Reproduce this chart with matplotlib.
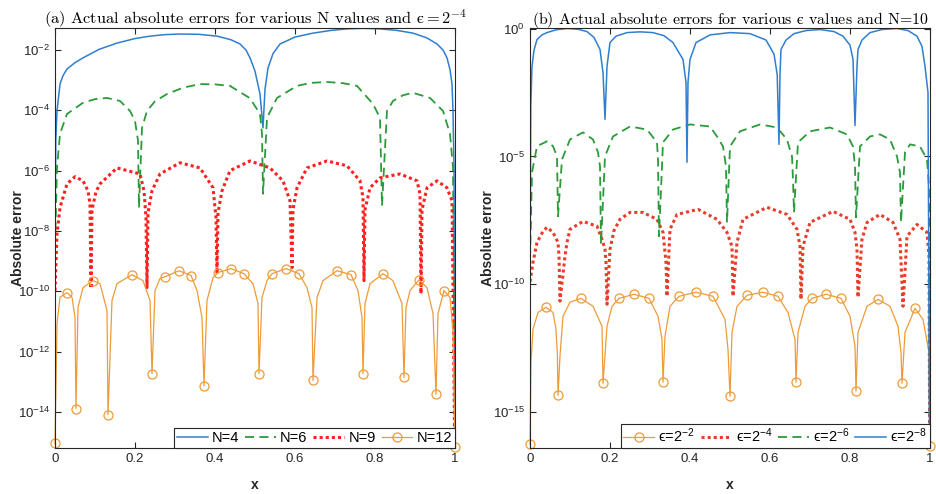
import numpy as np
import matplotlib
matplotlib.use("Agg")
import matplotlib.pyplot as plt
from matplotlib.ticker import LogFormatterSciNotation, NullLocator

plt.rcParams['font.family'] = ['Liberation Sans', 'DejaVu Sans']
plt.rcParams['mathtext.fontset'] = 'custom'
plt.rcParams['mathtext.rm'] = 'Liberation Sans'
plt.rcParams['mathtext.it'] = 'Liberation Sans:italic'
plt.rcParams['mathtext.bf'] = 'Liberation Sans:bold'
plt.rcParams['mathtext.default'] = 'regular'
plt.rcParams['mathtext.fallback'] = 'stix'

EPS = '\u03f5'  # lunate epsilon as in the source figure

# ---- panel (a): eps = 2^-4, errors as log10 values ----
n4_x = [0, 0.002, 0.005, 0.0125, 0.02, 0.03, 0.05, 0.07, 0.11, 0.155, 0.2, 0.2375, 0.275,
        0.3125, 0.36, 0.405, 0.44, 0.4625, 0.4775, 0.4875, 0.5, 0.5125, 0.52,
        0.525, 0.5325, 0.545, 0.5625, 0.6, 0.645, 0.69, 0.73, 0.77, 0.8125, 0.855, 0.895,
        0.93, 0.955, 0.97, 0.98, 0.9875, 0.9925, 0.995, 0.9975, 1.0]
n4_ly = [-8, -5.0, -4.02, -3.13, -2.85, -2.63, -2.42, -2.26, -1.98, -1.77, -1.62, -1.54, -1.49,
         -1.47, -1.48, -1.54, -1.66, -1.80, -2.0, -2.26, -2.7, -3.46, -4.58,
         -3.3, -2.60, -2.12, -1.80, -1.57, -1.44, -1.35, -1.30, -1.28, -1.30, -1.35, -1.44,
         -1.6, -1.80, -2.0, -2.26, -2.65, -3.13, -4.02, -5.9, -16]

n6_x = [0, 0.005, 0.0125, 0.03, 0.07, 0.1, 0.13, 0.1625, 0.1875, 0.2, 0.2075, 0.21,
        0.2175, 0.23, 0.25, 0.28, 0.32, 0.3625, 0.4, 0.4375, 0.4875, 0.5125, 0.5175, 0.52,
        0.53, 0.555, 0.605, 0.64, 0.68, 0.72, 0.755, 0.795, 0.8125, 0.8175,
        0.83, 0.845, 0.87, 0.895, 0.9375, 0.97, 0.9875, 0.995, 1.0]
n6_ly = [-8.5, -5.9, -4.78, -4.12, -3.75, -3.63, -3.59, -3.69, -4.02, -4.35, -5.0, -7.23,
         -4.58, -4.02, -3.7, -3.46, -3.25, -3.13, -3.14, -3.19, -3.6, -4.12, -4.78, -6.77,
         -4.25, -3.59, -3.19, -3.09, -3.06, -3.1, -3.19, -3.79, -4.25, -7.17,
         -4.02, -3.69, -3.5, -3.42, -3.59, -4.02, -4.78, -5.9, -16]

n9_x = [0, 0.005, 0.0125, 0.03, 0.05, 0.07, 0.0825, 0.0875, 0.09,
        0.0925, 0.1025, 0.1125, 0.155, 0.2125, 0.2225, 0.2275, 0.23,
        0.2325, 0.2425, 0.2625, 0.3125, 0.3625, 0.395, 0.4025, 0.405,
        0.4075, 0.4175, 0.4375, 0.4875, 0.5375, 0.57, 0.5875, 0.5925,
        0.595, 0.605, 0.63, 0.68, 0.73, 0.7625, 0.77, 0.7725,
        0.775, 0.7875, 0.8125, 0.8625, 0.905, 0.9125, 0.915,
        0.9175, 0.93, 0.955, 0.98, 0.9925, 1.0]
n9_ly = [-9.98, -8.09, -7.23, -6.44, -6.2, -6.34, -6.67, -7.1, -9.91,
         -7.3, -6.7, -6.44, -5.91, -6.11, -6.67, -7.56, -9.88,
         -7.4, -6.67, -6.11, -5.74, -5.91, -6.57, -7.56, -9.42,
         -7.4, -6.67, -6.0, -5.68, -5.91, -6.34, -7.0, -9.22,
         -7.3, -6.57, -5.91, -5.68, -5.84, -6.34, -6.9, -9.65,
         -7.3, -6.57, -6.24, -6.11, -6.34, -6.77, -10.08,
         -7.3, -6.57, -6.34, -6.57, -7.0, -16]

n12_x = [0, 0.005, 0.0125, 0.03, 0.0425, 0.05, 0.0525,
         0.0575, 0.07, 0.095, 0.1125, 0.13, 0.1325,
         0.1425, 0.155, 0.1925, 0.22, 0.2375, 0.2425,
         0.25, 0.2625, 0.275, 0.31, 0.34, 0.355, 0.3675, 0.3725,
         0.38, 0.395, 0.4075, 0.44, 0.4725, 0.495, 0.5075, 0.51,
         0.5175, 0.53, 0.5425, 0.5775, 0.61, 0.63, 0.6425, 0.645,
         0.655, 0.67, 0.705, 0.74, 0.7575, 0.7675, 0.77,
         0.775, 0.7875, 0.82, 0.845, 0.8675, 0.8725,
         0.8775, 0.8875, 0.91, 0.93, 0.945, 0.9525,
         0.9575, 0.9725, 0.9875, 0.995, 1.0]
n12_ly = [-15.05, -11.07, -10.2, -10.05, -10.2, -10.87, -13.89,
          -10.54, -9.88, -9.65, -9.75, -10.64, -14.09,
          -10.31, -9.75, -9.45, -9.65, -10.31, -12.73,
          -9.98, -9.58, -9.52, -9.32, -9.48, -9.98, -10.87, -13.13,
          -10.31, -9.55, -9.38, -9.25, -9.42, -9.75, -10.41, -12.73,
          -10.21, -9.65, -9.42, -9.25, -9.42, -9.88, -10.54, -12.96,
          -10.21, -9.65, -9.32, -9.45, -9.98, -10.87, -12.73,
          -10.41, -9.75, -9.42, -9.65, -10.41, -12.86,
          -10.54, -9.98, -9.62, -9.88, -10.74, -13.42,
          -10.74, -9.98, -10.21, -11.3, -15.17]
n12_marks = [0, 0.03, 0.0525, 0.095, 0.1325, 0.1925, 0.2425, 0.275, 0.31, 0.34, 0.3725,
             0.4075, 0.44, 0.4725, 0.51, 0.5425, 0.5775, 0.61, 0.645, 0.705, 0.74, 0.77,
             0.82, 0.8725, 0.91, 0.9525, 0.9725, 1.0]

# ---- panel (b): N = 10 ----
e8_x = [0, 0.002, 0.005, 0.01, 0.0175, 0.03, 0.0425, 0.065, 0.0925, 0.12, 0.1425, 0.16,
        0.175, 0.1825, 0.1875,
        0.1925, 0.2, 0.215, 0.2425, 0.275, 0.3075, 0.335, 0.3575, 0.3825, 0.39, 0.3925,
        0.395, 0.4, 0.415, 0.45, 0.5, 0.55, 0.59, 0.61, 0.618, 0.6225,
        0.625, 0.6275, 0.64, 0.66, 0.69, 0.725, 0.76, 0.7825, 0.8, 0.8075, 0.8125,
        0.8175, 0.82, 0.83, 0.85, 0.88, 0.9175, 0.945, 0.9675, 0.98, 0.9875, 0.995, 1.0]
e8_ly = [-9.9, -3.0, -1.48, -0.85, -0.43, -0.25, -0.16, -0.05, 0.0, -0.03, -0.12, -0.35,
         -0.82, -1.72, -3.55,
         -1.48, -0.55, -0.3, -0.16, -0.13, -0.16, -0.28, -0.55, -1.21, -2.11, -5.23,
         -2.11, -1.21, -0.55, -0.25, -0.16, -0.2, -0.45, -1.0, -1.8, -4.53,
         -1.8, -0.82, -0.45, -0.2, -0.08, -0.04, -0.12, -0.3, -0.65, -1.2, -3.79,
         -1.48, -0.82, -0.45, -0.16, -0.04, 0.0, -0.08, -0.3, -0.7, -1.48, -2.5, -20]

e6_x = [0, 0.005, 0.0175, 0.0425, 0.0575, 0.0675, 0.07,
        0.08, 0.1, 0.1325, 0.1575, 0.17, 0.175, 0.1775,
        0.1875, 0.2075, 0.25, 0.2925, 0.3175, 0.32, 0.3225,
        0.3325, 0.3575, 0.4, 0.45, 0.4675, 0.4825, 0.49, 0.4925,
        0.5, 0.525, 0.575, 0.6175, 0.6425, 0.655, 0.6575, 0.66,
        0.67, 0.7, 0.75, 0.7925, 0.8075, 0.8125, 0.815,
        0.825, 0.85, 0.875, 0.9, 0.9175, 0.925, 0.9275,
        0.9375, 0.95, 0.975, 0.9925, 0.9975, 1.0]
e6_ly = [-9.0, -5.63, -4.6, -4.41, -4.6, -5.0, -7.34,
         -5.12, -4.34, -4.06, -4.34, -4.84, -5.39, -8.44,
         -5.0, -4.22, -3.83, -3.95, -4.45, -5.12, -8.12,
         -4.45, -3.95, -3.75, -3.83, -4.22, -4.61, -5.39, -7.58,
         -4.61, -4.02, -3.75, -3.87, -4.34, -5.0, -5.9, -7.19,
         -4.45, -4.02, -3.87, -4.14, -4.61, -5.39, -7.38,
         -4.61, -4.22, -4.14, -4.34, -5.0, -5.63, -7.58,
         -4.84, -4.53, -4.61, -5.12, -6.17, -20]

e4_x = [0, 0.0075, 0.0175, 0.0325, 0.0425, 0.0575, 0.07, 0.0725, 0.075,
        0.0875, 0.0925, 0.1, 0.1325, 0.1675, 0.18, 0.1875, 0.19, 0.1925,
        0.2, 0.21, 0.225, 0.25, 0.2825, 0.3175, 0.3325, 0.34, 0.3425,
        0.35, 0.3675, 0.42, 0.4675, 0.4925, 0.505, 0.5075,
        0.5175, 0.5325, 0.5925, 0.6425, 0.6675, 0.675, 0.6775,
        0.6825, 0.7, 0.7575, 0.8, 0.8125, 0.8175, 0.82,
        0.83, 0.8425, 0.875, 0.9075, 0.925, 0.9325,
        0.9425, 0.9675, 0.9925, 0.9975, 1.0]
e4_ly = [-9.9, -9.14, -8.36, -7.93, -7.77, -7.97, -8.36, -8.9, -10.66,
         -8.9, -8.36, -7.85, -7.54, -7.73, -8.24, -8.63, -9.14, -10.78,
         -8.63, -7.9, -7.46, -7.19, -7.19, -7.46, -7.97, -9.14, -10.47,
         -7.85, -7.27, -7.07, -7.46, -7.97, -8.52, -10.47,
         -8.36, -7.46, -6.99, -7.27, -7.85, -8.52, -10.59,
         -8.52, -7.58, -7.15, -7.46, -7.97, -8.63, -10.51,
         -8.24, -7.58, -7.27, -7.58, -8.24, -10.86,
         -8.12, -7.66, -7.97, -8.9, -20]

e2_x = [0, 0.0025, 0.0075, 0.02, 0.04, 0.0575, 0.065, 0.0685, 0.07,
        0.075, 0.0825, 0.1, 0.1275, 0.1575, 0.18, 0.1825,
        0.1925, 0.205, 0.2225, 0.26, 0.2975, 0.32, 0.33, 0.3325,
        0.3375, 0.35, 0.3725, 0.415, 0.4575, 0.4875, 0.495, 0.5,
        0.505, 0.5175, 0.5425, 0.5825, 0.62, 0.645, 0.6625, 0.665,
        0.67, 0.6875, 0.705, 0.74, 0.7775, 0.8, 0.8125, 0.815,
        0.82, 0.8425, 0.87, 0.9, 0.92, 0.9275, 0.93,
        0.9375, 0.9625, 0.9825, 0.9975, 1.0]
e2_ly = [-16.25, -13.05, -11.76, -11.1, -10.9, -11.1, -11.76, -12.8, -14.34,
         -12.8, -11.25, -10.7, -10.55, -10.86, -11.64, -13.87,
         -11.64, -10.86, -10.55, -10.39, -10.55, -11.25, -12.15, -13.83,
         -12.03, -10.86, -10.47, -10.31, -10.47, -11.37, -12.54, -14.38,
         -11.88, -10.86, -10.43, -10.31, -10.47, -11.1, -12.15, -13.83,
         -11.88, -10.86, -10.55, -10.39, -10.55, -11.25, -12.42, -14.18,
         -11.88, -10.86, -10.59, -10.86, -11.64, -12.66, -13.87,
         -11.88, -10.94, -11.37, -12.66, -16.33]
e2_marks = [0, 0.04, 0.07, 0.1275, 0.1825, 0.2225, 0.26, 0.2975, 0.3325, 0.3725, 0.415,
            0.4575, 0.5, 0.5425, 0.5825, 0.62, 0.665, 0.705, 0.74, 0.7775, 0.815, 0.87,
            0.93, 0.9625, 1.0]

BLUE = '#2f7ed0'
GREEN = '#2b9a3a'
RED_A = '#ff1f1f'
RED_B = '#e83d2a'
ORANGE = '#ee9b38'
EDGE = '#262626'


def style_axes(ax, yticks, ylim, title, title_size):
    ax.set_yscale('log')
    ax.set_xlim(0, 1)
    ax.set_ylim(10.0 ** ylim[0], 10.0 ** ylim[1])
    ax.set_xticks([0, 0.2, 0.4, 0.6, 0.8, 1])
    ax.set_xticklabels(['0', '0.2', '0.4', '0.6', '0.8', '1'])
    ax.set_yticks(yticks)
    ax.yaxis.set_major_formatter(LogFormatterSciNotation())
    ax.yaxis.set_minor_locator(NullLocator())
    ax.tick_params(direction='in', top=True, right=True, length=4, width=0.8,
                   labelsize=9.5, colors=EDGE)
    for sp in ax.spines.values():
        sp.set_color(EDGE)
        sp.set_linewidth(0.8)
    ax.set_xlabel('x', fontsize=10, fontweight='bold', color=EDGE)
    ax.set_ylabel('Absolute error', fontsize=10, fontweight='bold', color=EDGE)
    ax.xaxis.set_label_coords(0.5, -0.072)
    ax.set_title(title, fontsize=title_size, family='cmr10', math_fontfamily='cm', pad=3)


def add_legend(ax):
    leg = ax.legend(loc='lower right', ncol=4, fontsize=10.5, borderaxespad=0, fancybox=False,
                    framealpha=1, edgecolor=EDGE, handlelength=2.1, handletextpad=0.3,
                    columnspacing=0.4, borderpad=0.2)
    leg.get_frame().set_linewidth(0.8)


def main():
    fig = plt.figure(figsize=(9.36, 4.94), dpi=100)
    ax1 = fig.add_axes([55 / 936, 46 / 494, 400 / 936, 420 / 494])
    ax2 = fig.add_axes([530 / 936, 46 / 494, 400 / 936, 420 / 494])

    # (a)
    ax1.plot(n4_x, 10.0 ** np.array(n4_ly), '-', color=BLUE, lw=1.1, label='N=4')
    ax1.plot(n6_x, 10.0 ** np.array(n6_ly), color=GREEN, lw=1.3, dashes=(5, 3), label='N=6')
    ax1.plot(n9_x, 10.0 ** np.array(n9_ly), color=RED_A, lw=2.2, dashes=(1, 1),
             dash_capstyle='butt', label='N=9')
    m12 = np.flatnonzero(np.isin(n12_x, n12_marks))
    ax1.plot(n12_x, 10.0 ** np.array(n12_ly), '-o', color=ORANGE, lw=0.9, ms=6.5, mfc='none',
             mew=0.9, markevery=list(m12), clip_on=False, label='N=12')
    style_axes(ax1, [1e-14, 1e-12, 1e-10, 1e-8, 1e-6, 1e-4, 1e-2], (-15.2, -1.27),
               '(a) Actual absolute errors for various N values and $' + EPS + ' = 2^{-4}$', 11.8)
    ax1.yaxis.set_label_coords(-0.075, 0.5)
    add_legend(ax1)

    # (b)
    m2 = np.flatnonzero(np.isin(e2_x, e2_marks))
    ax2.plot(e2_x, 10.0 ** np.array(e2_ly), '-o', color=ORANGE, lw=0.9, ms=6.5, mfc='none',
             mew=0.9, markevery=list(m2), clip_on=False, label='$' + EPS + '$=2$^{-2}$')
    ax2.plot(e4_x, 10.0 ** np.array(e4_ly), color=RED_B, lw=2.2, dashes=(1, 1),
             dash_capstyle='butt', label='$' + EPS + '$=2$^{-4}$')
    ax2.plot(e6_x, 10.0 ** np.array(e6_ly), color=GREEN, lw=1.3, dashes=(5, 3),
             label='$' + EPS + '$=2$^{-6}$')
    ax2.plot(e8_x, 10.0 ** np.array(e8_ly), '-', color=BLUE, lw=1.1,
             label='$' + EPS + '$=2$^{-8}$')
    style_axes(ax2, [1e-15, 1e-10, 1e-5, 1], (-16.4, 0.02),
               '(b) Actual absolute errors for various $' + EPS + '$ values and N=10', 11.4)
    ax2.yaxis.set_label_coords(-0.0875, 0.5)
    add_legend(ax2)

    fig.savefig('out.png', dpi=100)


if __name__ == "__main__":
    main()
